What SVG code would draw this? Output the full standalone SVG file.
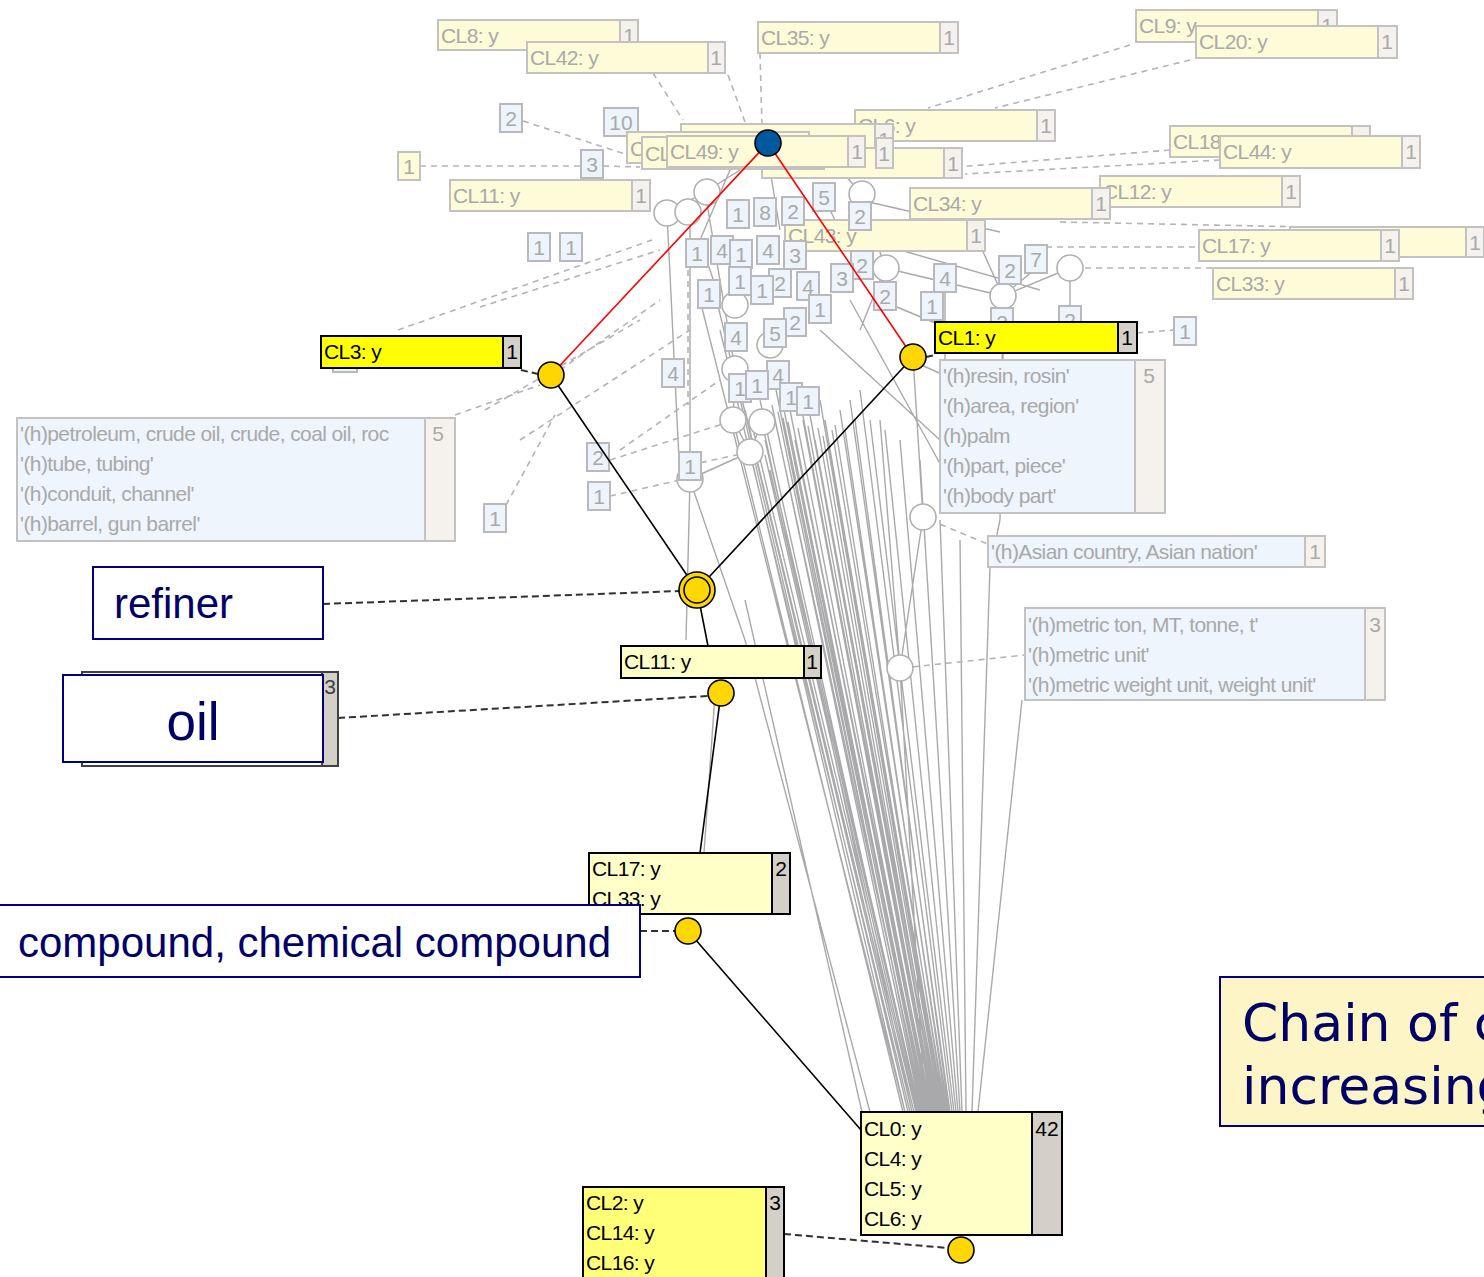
<svg xmlns="http://www.w3.org/2000/svg" width="1484" height="1277" viewBox="0 0 1484 1277">
<style>
.bg{fill:#ffffff}
.fb{fill:#fdfbd8;stroke:#c4c2c0;stroke-width:2}
.fc{fill:#f5f2ee;stroke:#c4c2c0;stroke-width:2}
.ab{fill:#eef5fd;stroke:#c4c2c0;stroke-width:2}
.ft{font-family:"Liberation Sans",Arial,sans-serif;font-size:21px;fill:#a9a9a9;letter-spacing:-0.6px}
.nb{fill:#edf4fc;stroke:#b9b9bd;stroke-width:2}
.nt{font-family:"Liberation Sans",Arial,sans-serif;font-size:21px;fill:#a9a9a9;text-anchor:middle}
.hy{fill:#ffff00;stroke:#000;stroke-width:2}
.hl{fill:#ffffc8;stroke:#000;stroke-width:2}
.hy2{fill:#ffff78;stroke:#000;stroke-width:2}
.cc{fill:#d4d0c8;stroke:#000;stroke-width:2}
.bt{font-family:"Liberation Sans",Arial,sans-serif;font-size:21px;fill:#000;letter-spacing:-0.6px}
.gl{fill:none;stroke:#a9a9ab;stroke-width:1.4}
.gd{fill:none;stroke:#b4b4b4;stroke-width:1.6;stroke-dasharray:6 5}
.bd{fill:none;stroke:#303030;stroke-width:2;stroke-dasharray:7 4}
.hc{fill:#ffffff;stroke:#b0b0b0;stroke-width:1.6}
.yn{fill:#ffd700;stroke:#000;stroke-width:1.6}
.red{fill:none;stroke:#ff0000;stroke-width:1.6}
.blk{fill:none;stroke:#000;stroke-width:1.6}
.an{fill:#ffffff;stroke:#000080;stroke-width:2}
.at{font-family:"Liberation Sans",Arial,sans-serif;fill:#000066}
</style>
<rect class="bg" x="0" y="0" width="1484" height="1277"/>

<g id="connectors">
  <!-- grey fan of lines toward CL0 -->
  <path class="gl" d="M700 300L905 1112M712 280L908 1112M720 330L910 1112M735 370L912 1112M745 410L914 1112M752 425L916 1112M760 400L918 1112M765 440L920 1112M770 360L922 1112M775 420L924 1112M780 390L926 1112M785 430L928 1112M790 410L930 1112M795 440L932 1112M800 400L934 1112M805 430L936 1112M810 415L938 1112M815 440L940 1112M820 400L942 1112M825 420L944 1112M832 430L946 1112M840 410L948 1112M850 400L950 1112M860 390L952 1112M870 420L954 1112M885 430L956 1112M900 440L958 1112M920 460L960 1112M940 520L962 1112M960 540L966 1112M990 567L972 1112M1022 700L978 1112M745 600L862 1112M750 452L905 1112M762 422L912 1112M733 420L903 1112M690 480L745 640L870 1112M716 680L704 853M690 480L686 640M690 213L690 480M667 213L680 480M705 192L735 369M735 369L733 420M733 420L750 452M762 422L750 452M750 452L690 479M900 668L923 517M923 517L913 357M900 668L925 1112M900 668L880 420M990 567L1000 520M1000 520L1003 296M1070 268L1070 318M885 268L1003 296M1003 296L1070 268M862 194L885 268M885 268L860 330M667 213L705 192M688 212L705 192M705 192L740 170M862 194L840 170M860 200L1000 232M900 250L1040 290M880 300L1000 350M910 360L1000 400M820 330L940 440M850 300L960 500M1003 296L1003 360M945 290L945 360M980 245L1003 296M1040 265L1003 296M770 170L780 230M730 170L700 240M700 240L720 300M825 200L850 250M772 405L921 1112M778 412L923 1112M783 418L925 1112M788 422L927 1112M793 425L929 1112M798 428L931 1112M803 420L933 1112M808 426L935 1112M813 432L937 1112M818 428L939 1112M823 436L941 1112M828 440L943 1112M835 425L945 1112M845 430L947 1112M855 420L949 1112M765 455L917 1112M770 470L919 1112"/>
  <!-- grey dashed lines -->
  <path class="gd" d="M653 73L683 120M728 75L745 122M760 53L762 126M523 121L628 155M420 166L582 166M603 166L640 167M1130 45L928 108M1190 60L995 108M1170 150L945 168M1220 160L965 174M1060 222L1360 228M1035 247L1199 247M1085 268L1213 268M1137 333L1174 330M455 415L540 385M506 505L555 415M398 330L652 240M480 307L660 250M485 410L640 320M520 440L690 330M610 460L735 420M610 496L680 480M688 270L688 405M690 465L750 452M902 668L1025 655M930 520L990 545M620 450L720 380M560 370L660 300"/>
</g>

<g id="hollow-nodes">
  <circle class="hc" cx="667" cy="213" r="13"/>
  <circle class="hc" cx="688" cy="212" r="13"/>
  <circle class="hc" cx="707" cy="192" r="13"/>
  <circle class="hc" cx="862" cy="194" r="13"/>
  <circle class="hc" cx="886" cy="268" r="13"/>
  <circle class="hc" cx="1003" cy="296" r="13"/>
  <circle class="hc" cx="1070" cy="268" r="13"/>
  <circle class="hc" cx="735" cy="369" r="13"/>
  <circle class="hc" cx="733" cy="420" r="13"/>
  <circle class="hc" cx="762" cy="422" r="13"/>
  <circle class="hc" cx="750" cy="452" r="13"/>
  <circle class="hc" cx="690" cy="479" r="13"/>
  <circle class="hc" cx="923" cy="517" r="13"/>
  <circle class="hc" cx="900" cy="668" r="13"/>
  <circle class="hc" cx="735" cy="305" r="13"/>
  <circle class="hc" cx="770" cy="345" r="13"/>
</g>

<g id="faded-concepts">
  <g id="cl8"><rect class="fb" x="438" y="20" width="182" height="30"/><rect class="fc" x="620" y="20" width="18" height="30"/><text class="ft" x="441" y="43">CL8: y</text><text class="nt" x="629" y="43">1</text></g>
  <g id="cl42"><rect class="fb" x="527" y="42" width="181" height="31"/><rect class="fc" x="708" y="42" width="17" height="31"/><text class="ft" x="530" y="65">CL42: y</text><text class="nt" x="716" y="65">1</text></g>
  <g id="cl35"><rect class="fb" x="758" y="22" width="182" height="31"/><rect class="fc" x="940" y="22" width="18" height="31"/><text class="ft" x="761" y="45">CL35: y</text><text class="nt" x="949" y="45">1</text></g>
  <g id="cl9"><rect class="fb" x="1136" y="10" width="182" height="32"/><rect class="fc" x="1318" y="10" width="19" height="32"/><text class="ft" x="1139" y="33">CL9: y</text><text class="nt" x="1327" y="33">1</text></g>
  <g id="cl20"><rect class="fb" x="1196" y="26" width="182" height="32"/><rect class="fc" x="1378" y="26" width="19" height="32"/><text class="ft" x="1199" y="49">CL20: y</text><text class="nt" x="1387" y="49">1</text></g>
  <g id="cl6t"><rect class="fb" x="855" y="110" width="182" height="31"/><rect class="fc" x="1037" y="110" width="18" height="31"/><text class="ft" x="858" y="133">CL6: y</text><text class="nt" x="1046" y="133">1</text></g>
  <g id="cl18"><rect class="fb" x="1170" y="126" width="182" height="31"/><rect class="fc" x="1352" y="126" width="18" height="31"/><text class="ft" x="1173" y="149">CL18: y</text><text class="nt" x="1361" y="149">1</text></g>
  <g id="cl44"><rect class="fb" x="1220" y="136" width="182" height="32"/><rect class="fc" x="1402" y="136" width="18" height="32"/><text class="ft" x="1223" y="159">CL44: y</text><text class="nt" x="1411" y="159">1</text></g>
  <g id="cl12"><rect class="fb" x="1100" y="176" width="182" height="31"/><rect class="fc" x="1282" y="176" width="18" height="31"/><text class="ft" x="1103" y="199">CL12: y</text><text class="nt" x="1291" y="199">1</text></g>
  <g id="cl34"><rect class="fb" x="910" y="188" width="182" height="31"/><rect class="fc" x="1092" y="188" width="18" height="31"/><text class="ft" x="913" y="211">CL34: y</text><text class="nt" x="1101" y="211">1</text></g>
  <g id="cl11t"><rect class="fb" x="450" y="180" width="182" height="31"/><rect class="fc" x="632" y="180" width="18" height="31"/><text class="ft" x="453" y="203">CL11: y</text><text class="nt" x="641" y="203">1</text></g>
  <g id="cl43"><rect class="fb" x="785" y="220" width="182" height="31"/><rect class="fc" x="967" y="220" width="18" height="31"/><text class="ft" x="788" y="243">CL43: y</text><text class="nt" x="976" y="243">1</text></g>
  <g id="clr"><rect class="fb" x="1290" y="227" width="176" height="30"/><rect class="fc" x="1466" y="227" width="18" height="30"/><text class="nt" x="1475" y="250">1</text></g>
  <g id="cl17t"><rect class="fb" x="1199" y="230" width="182" height="31"/><rect class="fc" x="1381" y="230" width="18" height="31"/><text class="ft" x="1202" y="253">CL17: y</text><text class="nt" x="1390" y="253">1</text></g>
  <g id="cl33t"><rect class="fb" x="1213" y="268" width="182" height="31"/><rect class="fc" x="1395" y="268" width="18" height="31"/><text class="ft" x="1216" y="291">CL33: y</text><text class="nt" x="1404" y="291">1</text></g>
</g>

<g id="number-boxes">
  <g><rect class="nb" x="500" y="104" width="22" height="28"/><text class="nt" x="511" y="126">2</text></g>
  <g><rect class="nb" x="604" y="108" width="34" height="28"/><text class="nt" x="621" y="130">10</text></g>
  <g><rect class="fb" x="398" y="152" width="22" height="28"/><text class="nt" x="409" y="174">1</text></g>
  <g><rect class="nb" x="581" y="150" width="22" height="28"/><text class="nt" x="592" y="172">3</text></g>
  <g><rect class="nb" x="528" y="233" width="22" height="28"/><text class="nt" x="539" y="255">1</text></g>
  <g><rect class="nb" x="560" y="233" width="22" height="28"/><text class="nt" x="571" y="255">1</text></g>
  <g><rect class="nb" x="813" y="183" width="22" height="28"/><text class="nt" x="824" y="205">5</text></g>
  <g><rect class="nb" x="782" y="197" width="22" height="28"/><text class="nt" x="793" y="219">2</text></g>
  <g><rect class="nb" x="849" y="202" width="22" height="28"/><text class="nt" x="860" y="224">2</text></g>
  <g><rect class="nb" x="727" y="200" width="22" height="28"/><text class="nt" x="738" y="222">1</text></g>
  <g><rect class="nb" x="754" y="198" width="22" height="28"/><text class="nt" x="765" y="220">8</text></g>
  <g><rect class="nb" x="686" y="239" width="22" height="28"/><text class="nt" x="697" y="261">1</text></g>
  <g><rect class="nb" x="711" y="236" width="22" height="28"/><text class="nt" x="722" y="258">4</text></g>
  <g><rect class="nb" x="730" y="240" width="22" height="28"/><text class="nt" x="741" y="262">1</text></g>
  <g><rect class="nb" x="757" y="236" width="22" height="28"/><text class="nt" x="768" y="258">4</text></g>
  <g><rect class="nb" x="784" y="241" width="22" height="28"/><text class="nt" x="795" y="263">3</text></g>
  <g><rect class="nb" x="851" y="251" width="22" height="28"/><text class="nt" x="862" y="273">2</text></g>
  <g><rect class="nb" x="729" y="267" width="22" height="28"/><text class="nt" x="740" y="289">1</text></g>
  <g><rect class="nb" x="769" y="269" width="22" height="28"/><text class="nt" x="780" y="291">2</text></g>
  <g><rect class="nb" x="751" y="276" width="22" height="28"/><text class="nt" x="762" y="298">1</text></g>
  <g><rect class="nb" x="797" y="272" width="22" height="28"/><text class="nt" x="808" y="294">4</text></g>
  <g><rect class="nb" x="831" y="264" width="22" height="28"/><text class="nt" x="842" y="286">3</text></g>
  <g><rect class="nb" x="698" y="280" width="22" height="28"/><text class="nt" x="709" y="302">1</text></g>
  <g><rect class="nb" x="809" y="295" width="22" height="28"/><text class="nt" x="820" y="317">1</text></g>
  <g><rect class="nb" x="784" y="308" width="22" height="28"/><text class="nt" x="795" y="330">2</text></g>
  <g><rect class="nb" x="764" y="319" width="22" height="28"/><text class="nt" x="775" y="341">5</text></g>
  <g><rect class="nb" x="725" y="323" width="22" height="28"/><text class="nt" x="736" y="345">4</text></g>
  <g><rect class="nb" x="874" y="282" width="22" height="28"/><text class="nt" x="885" y="304">2</text></g>
  <g><rect class="nb" x="934" y="264" width="22" height="28"/><text class="nt" x="945" y="286">4</text></g>
  <g><rect class="nb" x="921" y="292" width="22" height="28"/><text class="nt" x="932" y="314">1</text></g>
  <g><rect class="nb" x="999" y="256" width="22" height="28"/><text class="nt" x="1010" y="278">2</text></g>
  <g><rect class="nb" x="1025" y="245" width="22" height="28"/><text class="nt" x="1036" y="267">7</text></g>
  <g><rect class="nb" x="991" y="308" width="22" height="28"/><text class="nt" x="1002" y="330">2</text></g>
  <g><rect class="nb" x="1059" y="306" width="22" height="28"/><text class="nt" x="1070" y="328">2</text></g>
  <g><rect class="nb" x="662" y="359" width="22" height="28"/><text class="nt" x="673" y="381">4</text></g>
  <g><rect class="nb" x="767" y="361" width="22" height="28"/><text class="nt" x="778" y="383">4</text></g>
  <g><rect class="nb" x="729" y="374" width="22" height="28"/><text class="nt" x="740" y="396">1</text></g>
  <g><rect class="nb" x="746" y="371" width="22" height="28"/><text class="nt" x="757" y="393">1</text></g>
  <g><rect class="nb" x="780" y="383" width="22" height="28"/><text class="nt" x="791" y="405">1</text></g>
  <g><rect class="nb" x="797" y="387" width="22" height="28"/><text class="nt" x="808" y="409">1</text></g>
  <g><rect class="nb" x="587" y="443" width="22" height="28"/><text class="nt" x="598" y="465">2</text></g>
  <g><rect class="nb" x="588" y="482" width="22" height="28"/><text class="nt" x="599" y="504">1</text></g>
  <g><rect class="nb" x="679" y="452" width="22" height="28"/><text class="nt" x="690" y="474">1</text></g>
  <g><rect class="nb" x="484" y="504" width="22" height="28"/><text class="nt" x="495" y="526">1</text></g>
  <g><rect class="nb" x="1174" y="317" width="22" height="28"/><text class="nt" x="1185" y="339">1</text></g>
  <g><rect class="nb" x="333" y="356" width="24" height="16"/></g>
</g>

<g id="top-stack">
  <g><rect class="fb" x="681" y="124" width="194" height="31"/><rect class="fc" x="875" y="124" width="18" height="31"/><text class="ft" x="684" y="147">CL4</text><text class="nt" x="884" y="147">1</text></g>
  <g><rect class="fb" x="762" y="148" width="182" height="30"/><rect class="fc" x="944" y="148" width="18" height="30"/><text class="nt" x="953" y="171">1</text></g>
  <g><rect class="fc" x="876" y="138" width="17" height="30"/><text class="nt" x="884" y="161">1</text></g>
  <g><rect class="fb" x="627" y="132" width="182" height="31"/><text class="ft" x="630" y="156">C</text></g>
  <g><rect class="fb" x="642" y="137" width="182" height="32"/><text class="ft" x="645" y="161">CL</text></g>
  <g id="cl49"><rect class="fb" x="667" y="136" width="181" height="31"/><rect class="fc" x="848" y="136" width="17" height="31"/><text class="ft" x="670" y="159">CL49: y</text><text class="nt" x="857" y="159">1</text></g>
</g>

<g id="attribute-boxes">
  <g id="petroleum"><rect class="ab" x="17" y="418" width="408" height="123"/><rect class="fc" x="425" y="418" width="30" height="123"/>
    <text class="ft" x="20" y="441">'(h)petroleum, crude oil, crude, coal oil, roc</text>
    <text class="ft" x="20" y="471">'(h)tube, tubing'</text>
    <text class="ft" x="20" y="501">'(h)conduit, channel'</text>
    <text class="ft" x="20" y="531">'(h)barrel, gun barrel'</text>
    <text class="nt" x="438" y="441">5</text></g>
  <g id="resin"><rect class="ab" x="940" y="360" width="195" height="153"/><rect class="fc" x="1135" y="360" width="30" height="153"/>
    <text class="ft" x="943" y="383">'(h)resin, rosin'</text>
    <text class="ft" x="943" y="413">'(h)area, region'</text>
    <text class="ft" x="943" y="443">(h)palm</text>
    <text class="ft" x="943" y="473">'(h)part, piece'</text>
    <text class="ft" x="943" y="503">'(h)body part'</text>
    <text class="nt" x="1149" y="383">5</text></g>
  <g id="asian"><rect class="ab" x="988" y="536" width="317" height="31"/><rect class="fc" x="1305" y="536" width="20" height="31"/>
    <text class="ft" x="991" y="559">'(h)Asian country, Asian nation'</text>
    <text class="nt" x="1315" y="559">1</text></g>
  <g id="metric"><rect class="ab" x="1025" y="608" width="340" height="92"/><rect class="fc" x="1365" y="608" width="20" height="92"/>
    <text class="ft" x="1028" y="632">'(h)metric ton, MT, tonne, t'</text>
    <text class="ft" x="1028" y="662">'(h)metric unit'</text>
    <text class="ft" x="1028" y="692">'(h)metric weight unit, weight unit'</text>
    <text class="nt" x="1375" y="632">3</text></g>
</g>

<g id="highlighted-connectors">
  <path class="red" d="M768 143L551 375M768 143L913 357"/>
  <path class="blk" d="M551 375L697 590M913 357L697 590M697 590L708 646M721 693L700 853M688 931L861 1130"/>
  <path class="bd" d="M323 604L680 591M338 718L708 696M640 931L675 931M784 1234L948 1248M521 370L538 374M926 357L935 355"/>
</g>

<g id="highlighted-concepts">
  <g id="cl3"><rect class="hy" x="321" y="336" width="182" height="32"/><rect class="cc" x="503" y="336" width="18" height="32"/><text class="bt" x="324" y="359">CL3: y</text><text class="nt" x="512" y="359" style="fill:#000">1</text></g>
  <g id="cl1"><rect class="hy" x="935" y="322" width="183" height="31"/><rect class="cc" x="1118" y="322" width="19" height="31"/><text class="bt" x="938" y="345">CL1: y</text><text class="nt" x="1127" y="345" style="fill:#000">1</text></g>
  <g id="cl11"><rect class="hl" x="621" y="646" width="183" height="32"/><rect class="cc" x="804" y="646" width="17" height="32"/><text class="bt" x="624" y="669">CL11: y</text><text class="nt" x="812" y="669" style="fill:#000">1</text></g>
  <g id="cl17"><rect class="hl" x="589" y="853" width="183" height="61"/><rect class="cc" x="772" y="853" width="18" height="61"/><text class="bt" x="592" y="876">CL17: y</text><text class="bt" x="592" y="906">CL33: y</text><text class="nt" x="781" y="876" style="fill:#000">2</text></g>
  <g id="cl0"><rect class="hl" x="861" y="1112" width="171" height="123"/><rect class="cc" x="1032" y="1112" width="30" height="123"/>
    <text class="bt" x="864" y="1136">CL0: y</text><text class="bt" x="864" y="1166">CL4: y</text><text class="bt" x="864" y="1196">CL5: y</text><text class="bt" x="864" y="1226">CL6: y</text>
    <text class="nt" x="1047" y="1136" style="fill:#000">42</text></g>
  <g id="cl2"><rect class="hy2" x="583" y="1187" width="183" height="100"/><rect class="cc" x="766" y="1187" width="18" height="100"/>
    <text class="bt" x="586" y="1210">CL2: y</text><text class="bt" x="586" y="1240">CL14: y</text><text class="bt" x="586" y="1270">CL16: y</text>
    <text class="nt" x="775" y="1210" style="fill:#000">3</text></g>
</g>

<g id="lattice-nodes">
  <circle id="top" cx="768" cy="143" r="13" fill="#00589e" stroke="#000" stroke-width="1.6"/>
  <circle id="n-cl3" class="yn" cx="551" cy="375" r="13"/>
  <circle id="n-cl1" class="yn" cx="913" cy="357" r="13"/>
  <g id="n-refiner"><circle class="yn" cx="697" cy="590" r="18"/><circle class="yn" cx="697" cy="590" r="13"/></g>
  <circle id="n-oil" class="yn" cx="721" cy="693" r="13"/>
  <circle id="n-compound" class="yn" cx="688" cy="931" r="13"/>
  <circle id="n-bottom" class="yn" cx="961" cy="1250" r="13"/>
</g>

<g id="annotations">
  <g id="refiner"><rect class="an" x="93" y="567" width="230" height="72"/><text class="at" x="114" y="618" font-size="42">refiner</text></g>
  <g id="oil"><rect x="82" y="672" width="240" height="94" fill="#ffffff" stroke="#404040" stroke-width="2"/><rect class="cc" x="322" y="672" width="16" height="94" style="stroke:#404040"/><text class="nt" x="330" y="694" style="fill:#404040">3</text>
    <rect class="an" x="63" y="675" width="260" height="87"/><text class="at" x="193" y="740" font-size="53" text-anchor="middle">oil</text></g>
  <g id="compound"><rect class="an" x="-2" y="905" width="642" height="72"/><text class="at" x="18" y="957" font-size="42">compound, chemical compound</text></g>
  <g id="chain"><rect x="1220" y="977" width="270" height="149" fill="#fdf5c5" stroke="#000080" stroke-width="2"/>
    <text class="at" x="1242" y="1041" font-size="52" style="font-family:'DejaVu Sans',Verdana,sans-serif">Chain of c</text>
    <text class="at" x="1242" y="1104" font-size="52" style="font-family:'DejaVu Sans',Verdana,sans-serif">increasing</text></g>
</g>
</svg>
